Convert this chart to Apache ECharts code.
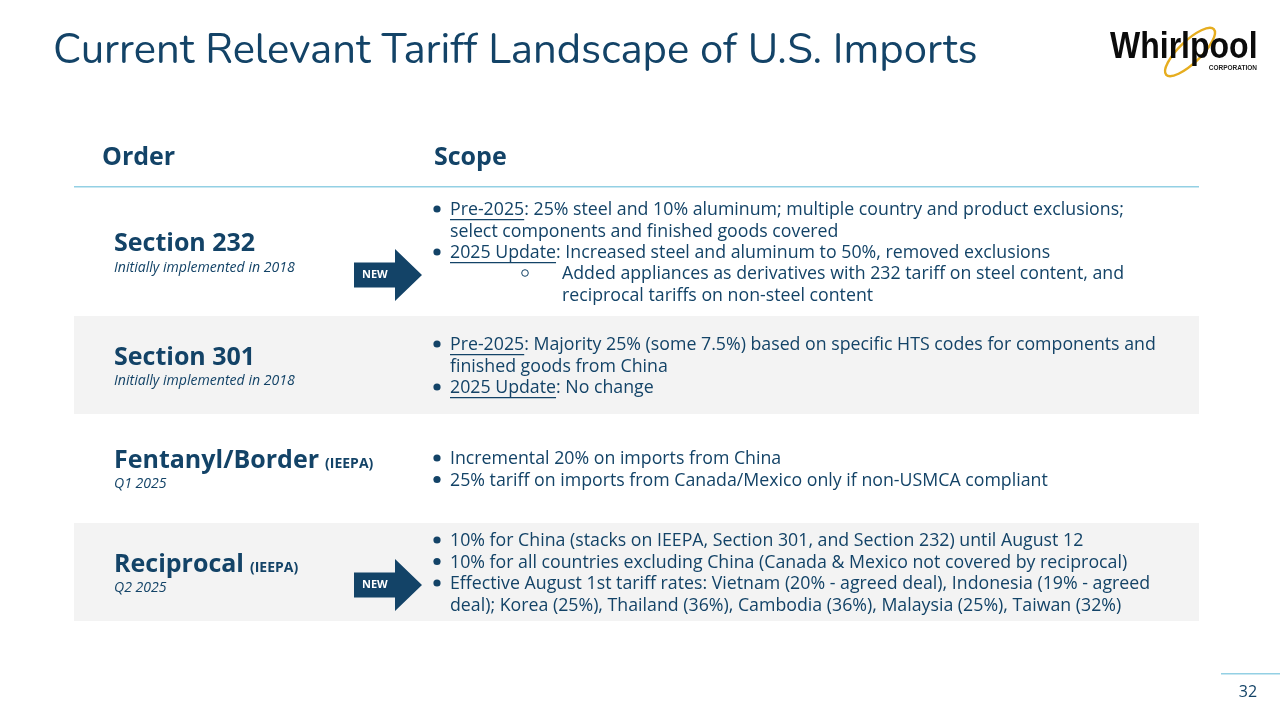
<!DOCTYPE html>
<html><head><meta charset="utf-8">
<style>html,body{margin:0;padding:0;background:#fff}#c{width:1280px;height:720px}</style>
<script src="https://cdn.jsdelivr.net/npm/echarts@6/dist/echarts.min.js"></script>
</head><body><div id="c"></div>
<script>
const titleText = "Current Relevant Tariff Landscape of U.S. Imports";
const columnHeads = ["Order", "Scope"];
const orders = ["Section 232", "Section 301", "Fentanyl/Border", "Reciprocal"];
const orderTags = ["", "", "(IEEPA)", "(IEEPA)"];
const orderNotes = ["Initially implemented in 2018", "Initially implemented in 2018", "Q1 2025", "Q2 2025"];
const badge = "NEW";
const pageNumber = "32";
// each entry: [bullet, underlined lead, remaining text]
const scopeLines = [
  ["●","Pre-2025",": 25% steel and 10% aluminum; multiple country and product exclusions;"],
  ["","","select components and finished goods covered"],
  ["●","2025 Update",": Increased steel and aluminum to 50%, removed exclusions"],
  ["○","","Added appliances as derivatives with 232 tariff on steel content, and"],
  ["-","","reciprocal tariffs on non-steel content"],
  ["●","Pre-2025",": Majority 25% (some 7.5%) based on specific HTS codes for components and"],
  ["","","finished goods from China"],
  ["●","2025 Update",": No change"],
  ["●","","Incremental 20% on imports from China"],
  ["●","","25% tariff on imports from Canada/Mexico only if non-USMCA compliant"],
  ["●","","10% for China (stacks on IEEPA, Section 301, and Section 232) until August 12"],
  ["●","","10% for all countries excluding China (Canada & Mexico not covered by reciprocal)"],
  ["●","","Effective August 1st tariff rates: Vietnam (20% - agreed deal), Indonesia (19% - agreed"],
  ["","","deal); Korea (25%), Thailand (36%), Cambodia (36%), Malaysia (25%), Taiwan (32%)"]
];

// layout
const lineY = [210,231.5,253,274,295.5,345,366.5,388,459,480.5,541,562.5,584,605.5];
const bulletOff = -1;
const orderY = [244,358,461,565], noteY = [268,381,484,588];
const bandRects = [[74,316,1125,98],[74,523,1125,98]];
const arrowYs = [275,585];
const navy = "#134367", BODY = '"Open Sans"', BS = 17.76, RULE = "#93d0e4";
const measure = document.createElement("canvas").getContext("2d");
function tw(str, font){ measure.font = font; return measure.measureText(str).width; }
function T(x,y,text,size,opt={}){
  return {type:"text",x,y,silent:true,style:Object.assign({text,fill:navy,
    font:`${opt.style||"normal"} ${opt.weight||400} ${size}px ${opt.family||BODY}`,
    textAlign:opt.align||"left",textVerticalAlign:"middle",verticalAlign:"middle"},opt.extra||{})};
}
const g = [];
bandRects.forEach(r=>g.push({type:"rect",silent:true,shape:{x:r[0],y:r[1],width:r[2],height:r[3]},style:{fill:"#f3f3f3"}}));
g.push(T(53,53,titleText,41.8,{family:'"Nunito","Lato"',weight:400}));
g.push(T(102,158,columnHeads[0],25,{weight:700}));
g.push(T(434,158,columnHeads[1],25,{weight:700}));
g.push({type:"rect",silent:true,shape:{x:74,y:186,width:1125,height:1.4},style:{fill:RULE}});
orders.forEach((o,i)=>{
  g.push(T(114,orderY[i],o,25,{weight:700}));
  if(orderTags[i]) g.push(T(114+tw(o,`700 25px ${BODY}`)+6,orderY[i]+3,orderTags[i],14,{weight:700}));
  g.push(T(114,noteY[i],orderNotes[i],14.1,{style:"italic"}));
});
scopeLines.forEach((l,i)=>{
  const y=lineY[i], sub=l[0]==="○"||l[0]==="-";
  const x=sub?562:450;
  if(l[0]==="●") g.push({type:"circle",silent:true,shape:{cx:437,cy:y+bulletOff,r:3.6},style:{fill:navy}});
  if(l[0]==="○") g.push({type:"circle",silent:true,shape:{cx:525,cy:y+bulletOff,r:3.3},style:{fill:"none",stroke:navy,lineWidth:1}});
  let cx=x;
  if(l[1]){
    g.push(T(cx,y,l[1],BS));
    const w=tw(l[1],`400 ${BS}px ${BODY}`);
    g.push({type:"rect",silent:true,shape:{x:cx,y:y+9,width:w,height:1.2},style:{fill:navy}});
    cx+=w;
  }
  g.push(T(cx,y,l[2],BS));
});
arrowYs.forEach(y=>{
  g.push({type:"polygon",silent:true,shape:{points:[[354,y-12.5],[395,y-12.5],[395,y-26],[422,y],[395,y+26],[395,y+12.5],[354,y+12.5]]},style:{fill:navy}});
  g.push(T(362,y,badge,11,{weight:700,extra:{fill:"#ffffff"}}));
});
// footer
g.push({type:"rect",silent:true,shape:{x:1221,y:673,width:59,height:1.4},style:{fill:RULE}});
g.push(T(1248,692,pageNumber,16,{align:"center"}));
// logo
g.push({type:"ellipse",silent:true,x:1190,y:52,rotation:Math.PI/4.1,shape:{cx:0,cy:0,rx:33,ry:11},style:{fill:"none",stroke:"#e6ad1f",lineWidth:2.4}});
const logoWord = T(1110,47.5,"Whirlpool",32,{family:'"Liberation Sans"',weight:700,extra:{fill:"#0b0b0b"}});
logoWord.scaleY = 1.16;
g.push(logoWord);
g.push(T(1257,68,"CORPORATION",6.5,{family:'"Liberation Sans"',weight:700,align:"right",extra:{fill:"#222"}}));
const chart = echarts.init(document.getElementById("c"),null,{renderer:"canvas",width:1280,height:720});
chart.setOption({animation:false,backgroundColor:"#fff",graphic:{elements:g}});
</script></body></html>
